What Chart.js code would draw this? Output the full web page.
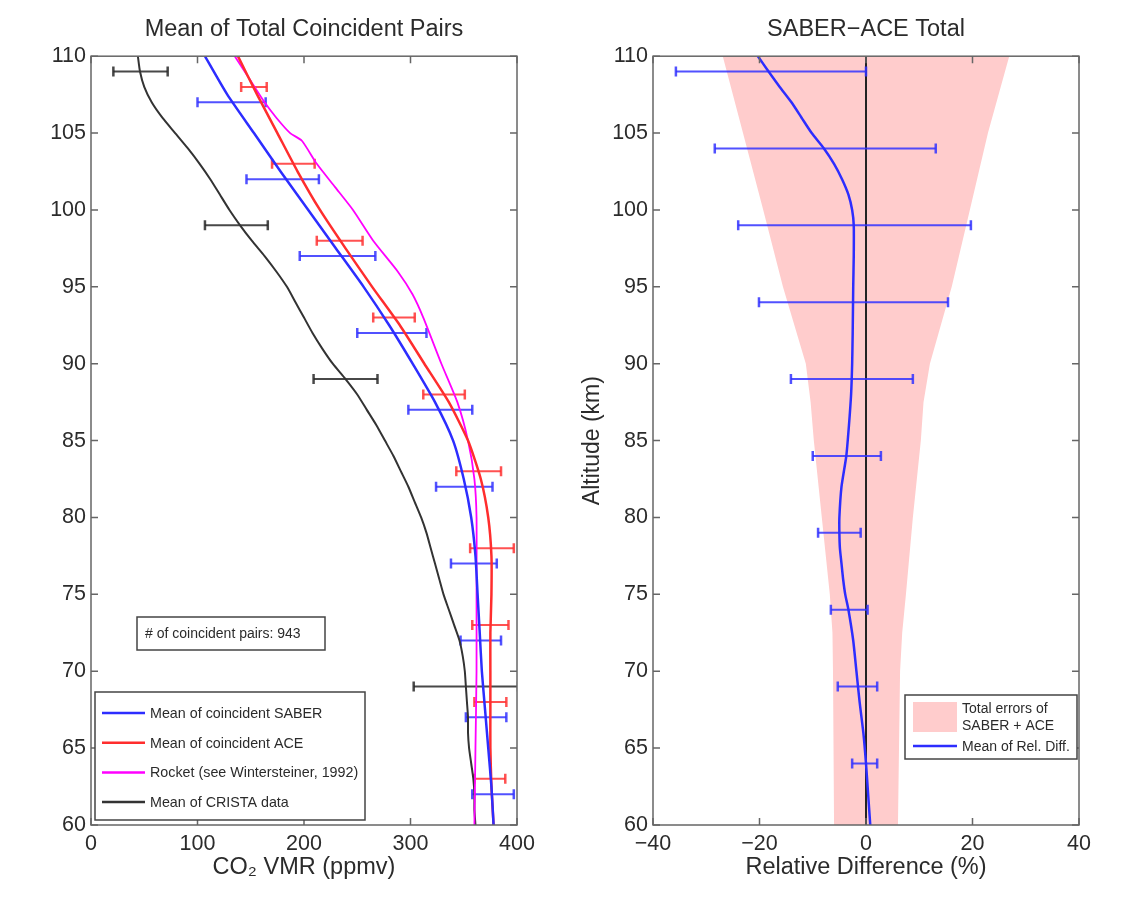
<!DOCTYPE html>
<html>
<head>
<meta charset="utf-8">
<script src="https://cdn.jsdelivr.net/npm/chart.js@4.4.0/dist/chart.umd.min.js"></script>
<style>
  body { margin: 0; background: #fff; }
  .panel { position: absolute; top: 0; height: 900px; }
</style>
</head>
<body>
<div class="panel" style="left:0;width:545px"><canvas id="leftChart"></canvas></div>
<div class="panel" style="left:560px;width:560px"><canvas id="rightChart"></canvas></div>
<script>
// ---- left panel: mean profiles (altitude in km, CO2 in ppmv)
const altSteps = [110, 107.5, 105, 102.5, 100, 97.5, 95, 92.5, 90, 87.5, 85, 82.5, 80, 77.5, 75, 72.5, 70, 67.5, 65, 62.5, 60];
const saberVmr = [107, 128, 153, 178, 204, 230, 256, 280, 302, 323, 340, 350, 357, 361, 363, 365, 367, 370, 373, 376, 378];
const aceVmr = [138, 156, 175, 194, 215, 239, 264, 290, 313, 336, 354, 366, 373, 376, 376, 375, 375, 375, 375, 376, 378];

const rocketAlt = [110, 108.5, 107, 106, 105, 104.5, 103, 101.5, 100, 98, 96, 94.5, 93, 90, 87.5, 85, 82.5, 80, 75, 70, 65, 60];
const rocketVmr = [135, 149, 163, 174, 187, 198, 212, 229, 246, 265, 288, 302, 312, 329, 344, 354, 360, 362, 362, 362, 361, 360];

const cristaAlt = [110, 109, 108, 107, 106, 105, 104, 103, 102, 101, 100, 99, 98, 97, 96, 95, 94, 93, 92, 91, 90, 89, 88, 87, 86, 85, 84, 83, 82, 81, 80, 79, 78, 77, 76, 75, 74, 73, 72, 71, 70, 69, 68, 67, 66, 65, 64, 63, 62, 61, 60];
const cristaVmr = [44, 46, 50, 57, 67, 79, 91, 102, 112, 121, 130, 140, 151, 163, 174, 184, 192, 200, 208, 217, 227, 239, 250, 259, 268, 276, 284, 291, 298, 304, 310, 315, 319, 323, 327, 331, 336, 341, 346, 349, 351, 352, 353, 354, 354, 355, 357, 359, 360, 360, 361];

// error bars (low / high ends)
const saberBarAlt = [107, 102, 97, 92, 87, 82, 77, 72, 67, 62];
const saberBarLo = [100, 146, 196, 250, 298, 324, 338, 347, 352, 358];
const saberBarHi = [164, 214, 267, 315, 358, 377, 381, 385, 390, 397];
const aceBarAlt = [108, 103, 98, 93, 88, 83, 78, 73, 68, 63];
const aceBarLo = [141, 170, 212, 265, 312, 343, 356, 358, 360, 360];
const aceBarHi = [165, 210, 255, 304, 351, 385, 397, 392, 390, 389];
const cristaBarAlt = [109, 99, 89, 69];
const cristaBarLo = [21, 107, 209, 303];
const cristaBarHi = [72, 166, 269, 401];

// ---- right panel: relative difference (%)
const diffAlt = [110, 109, 108, 107, 106, 105, 104, 103, 102, 101, 100, 99, 97, 95, 92, 90, 88, 86, 84, 82, 80, 79, 78, 77, 76, 75, 74, 72, 70, 68, 66, 64, 62, 60];
const diffMean = [-20.3, -18.3, -16.2, -14.0, -12.1, -10.2, -7.9, -6.0, -4.5, -3.3, -2.6, -2.3, -2.3, -2.4, -2.5, -2.6, -2.8, -3.2, -3.7, -4.6, -5.0, -5.0, -4.9, -4.6, -4.3, -3.9, -3.3, -2.4, -1.8, -1.2, -0.5, 0, 0.4, 0.8];
const diffBarAlt = [109, 104, 99, 94, 89, 84, 79, 74, 69, 64];
const diffBarLo = [-35.7, -28.4, -24.0, -20.1, -14.1, -10.0, -9.0, -6.6, -5.3, -2.6];
const diffBarHi = [0, 13.1, 19.7, 15.4, 8.8, 2.8, -1.0, 0.3, 2.1, 2.1];
const bandAlt = [110, 105, 100, 95, 90, 87.5, 85, 80, 75, 72.5, 70, 65, 60];
const bandLo = [-26.9, -23.1, -19.3, -15.6, -11.3, -10.4, -9.8, -8.3, -6.8, -6.3, -6.2, -6.1, -6.0];
const bandHi = [26.9, 22.9, 19.5, 16.1, 12.0, 10.8, 10.3, 8.8, 7.5, 6.8, 6.4, 6.2, 6.0];

const FONT = 'Liberation Sans, Arial, Helvetica, sans-serif';
const TEXT = '#2b2b2b';
const BLUE = 'rgb(45,45,255)';
const RED = 'rgb(255,45,45)';

function profile(xs, ys) {
  return ys.map((y, i) => ({x: xs[i], y: y}));
}

function barPoints(alt, lo, hi) {
  const pts = [];
  alt.forEach((a, i) => {
    pts.push({x: lo[i], y: a}, {x: hi[i], y: a}, {x: hi[i], y: null});
  });
  return pts;
}

function lineSet(data, color, width, order) {
  return {data, showLine: true, borderColor: color, borderWidth: width, pointRadius: 0, tension: 0.2, order};
}

function barSet(data, color, order) {
  return {
    data, showLine: true, spanGaps: false, borderColor: color, borderWidth: 2, order,
    pointStyle: 'line', rotation: 90, pointRadius: 5, pointBorderWidth: 2.5, pointBorderColor: color
  };
}

// MATLAB-like box with inward ticks on all sides
const matlabAxes = {
  id: 'matlabAxes',
  afterDatasetsDraw(chart) {
    const {ctx, chartArea: a, scales: {x, y}} = chart;
    ctx.save();
    ctx.strokeStyle = '#666';
    ctx.lineWidth = 1.5;
    ctx.strokeRect(a.left, a.top, a.right - a.left, a.bottom - a.top);
    ctx.beginPath();
    x.ticks.forEach(t => {
      const px = x.getPixelForValue(t.value);
      ctx.moveTo(px, a.bottom); ctx.lineTo(px, a.bottom - 7);
      ctx.moveTo(px, a.top); ctx.lineTo(px, a.top + 7);
    });
    y.ticks.forEach(t => {
      const py = y.getPixelForValue(t.value);
      ctx.moveTo(a.left, py); ctx.lineTo(a.left + 7, py);
      ctx.moveTo(a.right, py); ctx.lineTo(a.right - 7, py);
    });
    ctx.stroke();
    ctx.restore();
  }
};

function baseOptions(title, xMin, xMax, xStep, xTitle, yTitle, yWidth, padRight, xFmt) {
  return {
    responsive: true,
    maintainAspectRatio: false,
    animation: false,
    events: [],
    layout: {padding: {left: 0, right: padRight, top: 0, bottom: 10}},
    plugins: {
      legend: {display: false},
      tooltip: {enabled: false},
      title: {
        display: true, text: title, fullSize: false, color: TEXT,
        font: {family: FONT, size: 23.5, weight: 'normal'},
        padding: {top: 15, bottom: 13}
      }
    },
    scales: {
      x: {
        type: 'linear', min: xMin, max: xMax,
        grid: {display: false, drawTicks: false}, border: {display: false},
        ticks: {stepSize: xStep, color: TEXT, padding: 6, font: {family: FONT, size: 21.5}, callback: xFmt},
        title: {display: true, text: xTitle, color: TEXT, font: {family: FONT, size: 23.5}, padding: {top: 0, bottom: 8}},
        afterFit(scale) { scale.height = 65; }
      },
      y: {
        type: 'linear', min: 60, max: 110,
        grid: {display: false, drawTicks: false}, border: {display: false},
        ticks: {stepSize: 5, color: TEXT, padding: 5, font: {family: FONT, size: 21.5}},
        title: {display: !!yTitle, text: yTitle, color: TEXT, font: {family: FONT, size: 23}, padding: {top: 19, bottom: 0}},
        afterFit(scale) { scale.width = yWidth; }
      }
    }
  };
}

// legend boxes drawn in canvas pixels
const leftLegend = {
  id: 'leftLegend',
  afterDraw(chart) {
    const ctx = chart.ctx;
    ctx.save();
    ctx.strokeStyle = '#444';
    ctx.lineWidth = 1.5;
    ctx.fillStyle = '#fff';
    ctx.fillRect(137, 617, 188, 33);
    ctx.strokeRect(137, 617, 188, 33);
    ctx.fillStyle = TEXT;
    ctx.font = '14px ' + FONT;
    ctx.textBaseline = 'middle';
    ctx.fillText('# of coincident pairs: 943', 145, 634);

    ctx.fillStyle = '#fff';
    ctx.fillRect(95, 692, 270, 128);
    ctx.strokeRect(95, 692, 270, 128);
    const items = [
      ['Mean of coincident SABER', BLUE],
      ['Mean of coincident ACE', RED],
      ['Rocket (see Wintersteiner, 1992)', 'rgb(255,0,255)'],
      ['Mean of CRISTA data', '#333']
    ];
    items.forEach((it, i) => {
      const yy = 713 + i * 29.7;
      ctx.strokeStyle = it[1];
      ctx.lineWidth = 2.5;
      ctx.beginPath(); ctx.moveTo(102, yy); ctx.lineTo(145, yy); ctx.stroke();
      ctx.fillStyle = TEXT;
      ctx.font = '14.3px ' + FONT;
      ctx.fillText(it[0], 150, yy + 1);
    });
    ctx.restore();
  }
};

const rightLegend = {
  id: 'rightLegend',
  afterDraw(chart) {
    const ctx = chart.ctx;
    ctx.save();
    ctx.fillStyle = '#fff';
    ctx.strokeStyle = '#444';
    ctx.lineWidth = 1.5;
    ctx.fillRect(345, 695, 172, 64);
    ctx.strokeRect(345, 695, 172, 64);
    ctx.fillStyle = '#ffcccc';
    ctx.fillRect(353, 702, 44, 30);
    ctx.strokeStyle = BLUE;
    ctx.lineWidth = 2.5;
    ctx.beginPath(); ctx.moveTo(353, 746); ctx.lineTo(397, 746); ctx.stroke();
    ctx.fillStyle = TEXT;
    ctx.font = '14px ' + FONT;
    ctx.textBaseline = 'middle';
    ctx.fillText('Total errors of', 402, 709);
    ctx.fillText('SABER + ACE', 402, 726);
    ctx.fillText('Mean of Rel. Diff.', 402, 747);
    ctx.restore();
  }
};

new Chart(document.getElementById('leftChart'), {
  type: 'scatter',
  data: {
    datasets: [
      lineSet(profile(saberVmr, altSteps), BLUE, 2.5, 1),
      lineSet(profile(aceVmr, altSteps), RED, 2.5, 2),
      lineSet(profile(rocketVmr, rocketAlt), 'rgb(255,0,255)', 1.8, 3),
      lineSet(profile(cristaVmr, cristaAlt), '#333', 2, 4),
      barSet(barPoints(saberBarAlt, saberBarLo, saberBarHi), 'rgba(50,50,255,0.85)', 5),
      barSet(barPoints(aceBarAlt, aceBarLo, aceBarHi), 'rgba(255,50,50,0.85)', 6),
      barSet(barPoints(cristaBarAlt, cristaBarLo, cristaBarHi), 'rgba(40,40,40,0.85)', 7)
    ]
  },
  options: baseOptions('Mean of Total Coincident Pairs', 0, 400, 100, 'CO\u2082 VMR (ppmv)', '', 91, 28),
  plugins: [matlabAxes, leftLegend]
});

const bandShape = profile(bandLo, bandAlt).concat(profile(bandHi.slice().reverse(), bandAlt.slice().reverse()));

new Chart(document.getElementById('rightChart'), {
  type: 'scatter',
  data: {
    datasets: [
      lineSet(profile(diffMean, diffAlt), BLUE, 2.5, 1),
      barSet(barPoints(diffBarAlt, diffBarLo, diffBarHi), 'rgba(50,50,255,0.85)', 2),
      {data: [{x: 0, y: 60}, {x: 0, y: 110}], showLine: true, borderColor: '#222', borderWidth: 2, pointRadius: 0, order: 3},
      {data: bandShape, showLine: true, fill: 'shape', backgroundColor: '#ffcccc', borderColor: '#ffcccc', borderWidth: 0, pointRadius: 0, order: 4}
    ]
  },
  options: baseOptions('SABER\u2212ACE Total', -40, 40, 20, 'Relative Difference (%)', 'Altitude (km)', 93, 41,
    v => (v < 0 ? '\u2212' + (-v) : String(v))),
  plugins: [matlabAxes, rightLegend]
});
</script>
</body>
</html>
